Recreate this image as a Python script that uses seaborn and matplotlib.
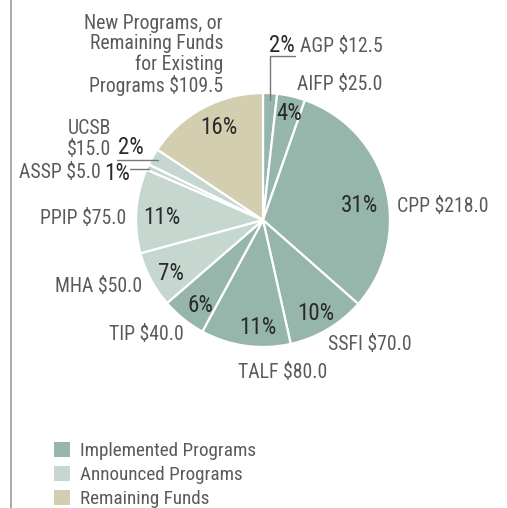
import matplotlib
matplotlib.use("Agg")
import matplotlib.pyplot as plt
from matplotlib import font_manager
from matplotlib.patches import Patch
import seaborn as sns
import numpy as np

programs = ["AGP", "AIFP", "CPP", "SSFI", "TALF", "TIP", "MHA", "PPIP", "ASSP", "UCSB",
            "New Programs, or\nRemaining Funds\nfor Existing\nPrograms"]
amounts = [12.5, 25.0, 218.0, 70.0, 80.0, 40.0, 50.0, 75.0, 5.0, 15.0, 109.5]
groups = ["Implemented", "Implemented", "Implemented", "Implemented", "Implemented", "Implemented",
          "Announced", "Announced", "Announced", "Announced", "Remaining"]
legend_labels = ["Implemented Programs", "Announced Programs", "Remaining Funds"]
group_colors = {"Implemented": "#96b6ab", "Announced": "#c6d7d0", "Remaining": "#d4ceb0"}

sns.set_theme(style="white")
avail = {f.name for f in font_manager.fontManager.ttflist}
fam = "DejaVu Sans"
for cand in ["Liberation Sans Narrow", "Roboto Condensed", "Open Sans Condensed", "Liberation Sans"]:
    if cand in avail:
        fam = cand
        break
plt.rcParams["font.family"] = [fam, "DejaVu Sans"]

W, H = 507, 508
fig = plt.figure(figsize=(W / 100, H / 100), dpi=100)
ax = fig.add_axes([0, 0, 1, 1])

def P(x, y):
    return (x, H - y)

colors = [group_colors[g] for g in groups]
cx, cy = P(263, 220)
wedges, _ = ax.pie(amounts, colors=colors, startangle=90, counterclock=False,
                   center=(cx, cy), radius=127, frame=True,
                   wedgeprops=dict(edgecolor="white", linewidth=1.6))
ax.set_xlim(0, W)
ax.set_ylim(0, H)
ax.axis("off")

total = sum(amounts)
pcts = [f"{int(round(a / total * 100))}%" for a in amounts]
names = [f"{p} ${a:.1f}" for p, a in zip(programs, amounts)]

lab_c = "#5a5a5a"
pct_c = "#2a2a2a"
fs_lab = 14.2
fs_pct = 16.5

# percentage label positions (pixel coords, centered)
pct_pos = [(282, 46), (289, 113), (360, 206), (316, 313), (258, 327), (200, 306),
           (171, 273), (162, 218), (117, 173), (131, 148), (219, 127)]
for (x, y), t in zip(pct_pos, pcts):
    ax.text(*P(x, y), t, ha="center", va="center", fontsize=fs_pct, color=pct_c)

# name labels: (x, y, ha)
name_pos = [(300, 46, "left"), (297, 85, "left"), (397, 206, "left"), (370, 345, "center"),
            (283, 372, "center"), (146, 335, "center"), (99, 287, "center"), (83, 218, "center"),
            (101, 173, "right"), (111, 139, "right"), (223, 55, "right")]
for i, ((x, y, ha), t) in enumerate(zip(name_pos, names)):
    if programs[i] == "UCSB":
        t = "UCSB\n$15.0"
    ax.text(*P(x, y), t, ha=ha, va="center", fontsize=fs_lab, color=lab_c,
            linespacing=1.08, multialignment="right" if ha == "right" else ha)

# leader lines
lc = "#777777"
ax.plot(*zip(P(295, 56), P(270, 56), P(270, 100)), color=lc, lw=1)
ax.plot(*zip(P(117, 160), P(158, 160)), color=lc, lw=1)
ax.plot(*zip(P(130, 169), P(149, 169)), color=lc, lw=1)

# left border line
ax.plot(*zip(P(11, 0), P(11, H)), color="#999999", lw=1.2)

handles = [Patch(facecolor=group_colors[g], edgecolor="none") for g in ["Implemented", "Announced", "Remaining"]]
leg = ax.legend(handles, legend_labels, loc="upper left", bbox_to_anchor=(46 / W, 1 - 434 / H),
                frameon=False, fontsize=13.8, handlelength=0.85, handleheight=0.85,
                handletextpad=0.55, labelspacing=0.3, borderaxespad=0)
for t in leg.get_texts():
    t.set_color("#5a5a5a")

fig.savefig("out.png", dpi=100)
